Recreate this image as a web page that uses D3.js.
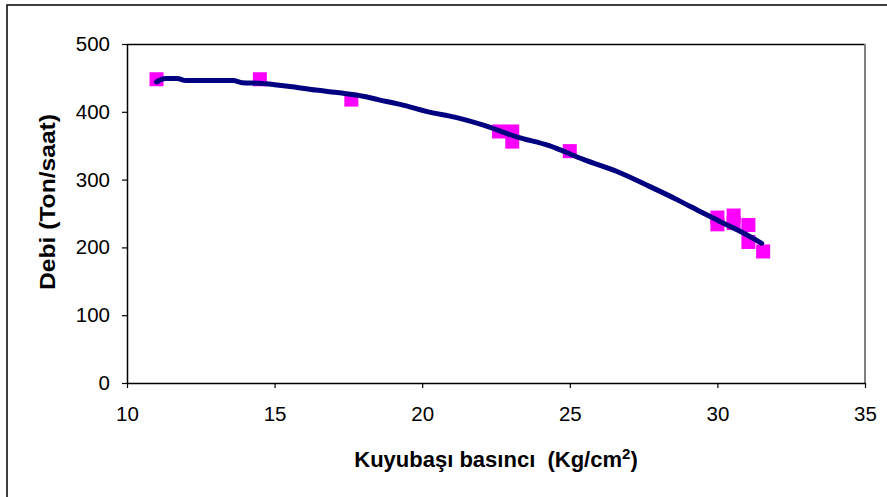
<!DOCTYPE html>
<html>
<head>
<meta charset="utf-8">
<script src="https://cdn.jsdelivr.net/npm/d3@7"></script>
<style>
  body { margin: 0; background: #fff; }
  svg { display: block; font-family: "Liberation Sans", Arial, sans-serif; }
</style>
</head>
<body>
<svg width="887" height="497"></svg>
<script>
// measured points (basinc, debi)
const pressure = [11.0, 14.5, 17.6, 22.6, 23.05, 23.05, 25.0, 30.0, 30.0, 30.55, 30.55, 31.05, 31.05, 31.55];
const flow     = [448, 448, 418, 371, 371, 356, 342, 244, 234, 247, 236, 233, 208, 194];

// trend line
const fitX = [11.0, 11.3, 11.7, 12.0, 13.0, 13.6, 13.9, 14.5, 15.0, 15.6, 16.4, 17.2, 18.0, 18.5, 19.25,
              20.4, 20.9, 22.1, 23.2, 24.3, 25.5, 26.6, 27.7, 28.7, 29.5, 30.1, 30.8, 31.5];
const fitY = [444, 449, 449, 446, 446, 446, 443, 442, 440, 437, 432, 428, 423, 418, 411,
              398, 394, 380, 363, 350, 329, 312, 290, 269, 251, 238, 223, 206];

const xTicks = [10, 15, 20, 25, 30, 35];
const yTicks = [0, 100, 200, 300, 400, 500];

const margin = { top: 44, right: 22, bottom: 114, left: 127 },
      width = 887 - margin.left - margin.right,
      height = 497 - margin.top - margin.bottom;

const svg = d3.select("svg");

// outer frame (right and bottom run off the picture)
svg.append("rect")
   .attr("x", 7).attr("y", 5)
   .attr("width", 900).attr("height", 510)
   .attr("fill", "none")
   .attr("stroke", "#000")
   .attr("stroke-width", 1.5);

const g = svg.append("g")
             .attr("transform", `translate(${margin.left},${margin.top})`);

const x = d3.scaleLinear().domain([10, 35]).range([0, width]);
const y = d3.scaleLinear().domain([0, 500]).range([height, 0]);

// plot area border
g.append("line")
 .attr("x1", 0).attr("x2", width).attr("y1", 0.5).attr("y2", 0.5)
 .attr("stroke", "#000").attr("stroke-width", 1.5);
g.append("line")
 .attr("x1", width).attr("x2", width).attr("y1", 0).attr("y2", height)
 .attr("stroke", "#808080").attr("stroke-width", 2);

// axes
const xAxis = g.append("g")
   .attr("transform", `translate(0,${height})`)
   .call(d3.axisBottom(x).tickValues(xTicks).tickSize(5).tickPadding(18).tickSizeOuter(0));

const yAxis = g.append("g")
   .call(d3.axisLeft(y).tickValues(yTicks).tickSize(5).tickPadding(12).tickSizeOuter(0));

[xAxis, yAxis].forEach(a => {
  a.select(".domain").attr("stroke", "#000").attr("stroke-width", 1.5);
  a.selectAll(".tick line").attr("stroke", "#000").attr("stroke-width", 1.2);
  a.selectAll(".tick text")
   .attr("font-family", "Liberation Sans, Arial, sans-serif")
   .attr("font-size", 20.5)
   .attr("fill", "#000");
});

// markers
const pts = pressure.map((p, i) => ({ x: p, y: flow[i] }));
const sz = 14;
g.selectAll(".pt")
 .data(pts)
 .enter()
 .append("rect")
 .attr("class", "pt")
 .attr("x", d => x(d.x) - sz / 2)
 .attr("y", d => y(d.y) - sz / 2)
 .attr("width", sz)
 .attr("height", sz)
 .attr("fill", "#ff00ff");

// trend line
const fit = fitX.map((v, i) => ({ x: v, y: fitY[i] }));
g.append("path")
 .datum(fit)
 .attr("fill", "none")
 .attr("stroke", "#000080")
 .attr("stroke-width", 5)
 .attr("stroke-linecap", "round")
 .attr("stroke-linejoin", "round")
 .attr("d", d3.line().x(d => x(d.x)).y(d => y(d.y)).curve(d3.curveMonotoneX));

// titles
const xt = svg.append("text")
   .attr("x", 496).attr("y", 467)
   .attr("text-anchor", "middle")
   .attr("font-size", 22)
   .attr("font-weight", "bold");
xt.append("tspan").text("Kuyubaşı basıncı \u00a0(Kg/cm");
xt.append("tspan").attr("font-size", 15).attr("dy", -8).text("2");
xt.append("tspan").attr("dy", 8).text(")");

svg.append("text")
   .attr("transform", "translate(55,202) rotate(-90) scale(1.12,1)")
   .attr("text-anchor", "middle")
   .attr("font-size", 22)
   .attr("font-weight", "bold")
   .text("Debi (Ton/saat)");
</script>
</body>
</html>
